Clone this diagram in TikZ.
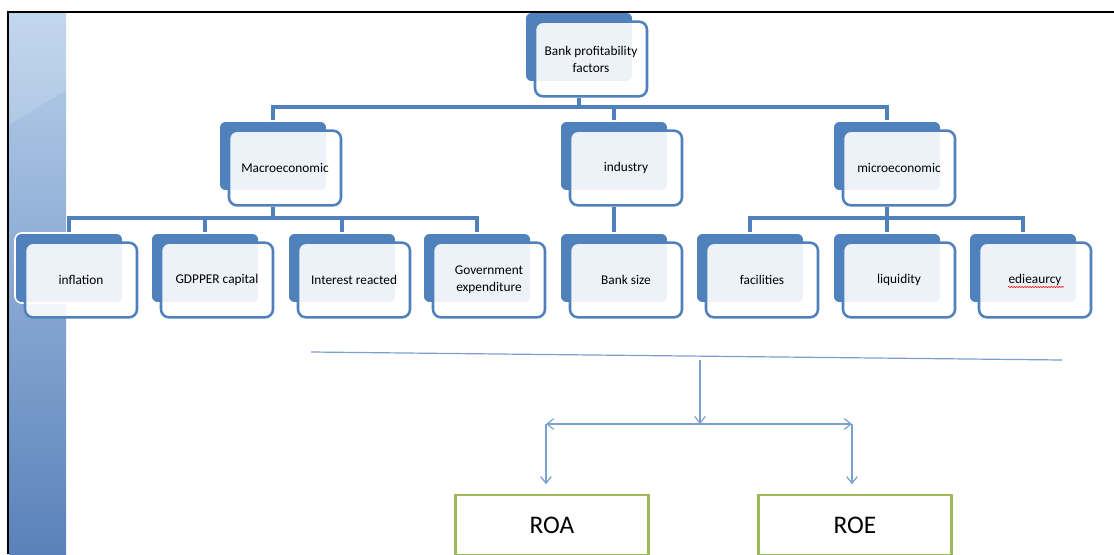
\documentclass[tikz,border=0pt]{standalone}
\usepackage{fontspec}
\setmainfont{Carlito}
\usetikzlibrary{arrows.meta,backgrounds,decorations.pathmorphing}
\definecolor{accblue}{HTML}{4F81BD}
\definecolor{thinblue}{HTML}{7BA0D0}
\definecolor{accgreen}{HTML}{9BBB59}
\definecolor{striptop}{HTML}{B8D0EB}
\definecolor{stripbot}{HTML}{5A82BA}
\tikzset{
  fblk/.style={draw=accblue,line width=1.9pt,rounded corners=6pt,fill=white,fill opacity=0.9,text opacity=1,
    minimum width=84pt,minimum height=56pt,inner sep=1pt,align=center,font=\fontsize{10}{12.8}\selectfont},
  bblk/.style={draw=white,line width=1.2pt,rounded corners=5pt,fill=accblue,minimum width=81pt,minimum height=52.5pt},
  conn/.style={draw=accblue,line width=2.3pt},
  tarr/.style={thinblue,line width=0.9pt,>={Straight Barb[length=5pt,width=8pt]}},
  resblk/.style={draw=accgreen,line width=2.2pt,minimum width=145pt,minimum height=45pt,font=\fontsize{19}{21}\selectfont}
}

\begin{document}
\begin{tikzpicture}[x={(0.75pt,0)},y={(0,-0.75pt)}]
  \useasboundingbox (0,0) rectangle (1114,554);

  % factor tree
  \node[fblk] (top) at (591,59) {Bank profitability\\factors};
  \node[fblk] (macro) at (285,168) {Macroeconomic};
  \node[fblk] (ind) at (626,168) {industry};
  \node[fblk] (micro) at (899,168) {microeconomic};
  \node[fblk] (infl) at (81,280) {inflation};
  \node[fblk] (gdp) at (217,280) {GDPPER capital};
  \node[fblk] (intr) at (354,280) {Interest reacted};
  \node[fblk] (gov) at (489,280) {Government\\expenditure};
  \node[fblk] (bsize) at (626,280) {Bank size};
  \node[fblk] (facil) at (762,280) {facilities};
  \node[fblk] (liq) at (899,280) {liquidity};
  \node[fblk] (edi) at (1035,280) {edieaurcy};

  \begin{scope}[on background layer]
    \shade[top color=striptop,bottom color=stripbot] (9,13) rectangle (66,554);
    \fill[white,opacity=0.15] (9,13) -- (66,13) -- (66,90) -- (9,125) -- cycle;
    \node[bblk] (topbk) at ([shift={(-12,-12)}]top.center) {};
    \node[bblk] (macrobk) at ([shift={(-12,-12)}]macro.center) {};
    \node[bblk] (indbk) at ([shift={(-12,-12)}]ind.center) {};
    \node[bblk] (microbk) at ([shift={(-12,-12)}]micro.center) {};
    \node[bblk] (inflbk) at ([shift={(-12,-12)}]infl.center) {};
    \node[bblk] (gdpbk) at ([shift={(-12,-12)}]gdp.center) {};
    \node[bblk] (intrbk) at ([shift={(-12,-12)}]intr.center) {};
    \node[bblk] (govbk) at ([shift={(-12,-12)}]gov.center) {};
    \node[bblk] (bsizebk) at ([shift={(-12,-12)}]bsize.center) {};
    \node[bblk] (facilbk) at ([shift={(-12,-12)}]facil.center) {};
    \node[bblk] (liqbk) at ([shift={(-12,-12)}]liq.center) {};
    \node[bblk] (edibk) at ([shift={(-12,-12)}]edi.center) {};
  \end{scope}

  \coordinate (bus1) at (0,107);
  \coordinate (bus2) at (0,218);

  \draw[conn] (topbk |- top.south) -- (topbk |- bus1);
  \draw[conn] (macrobk.north) |- (microbk |- bus1) -- (microbk.north);
  \draw[conn] (indbk.north) -- (indbk |- bus1);

  \draw[conn] (macrobk |- macro.south) -- (macrobk |- bus2);
  \draw[conn] (inflbk.north) |- (govbk |- bus2) -- (govbk.north);
  \draw[conn] (gdpbk.north) -- (gdpbk |- bus2);
  \draw[conn] (intrbk.north) -- (intrbk |- bus2);

  \draw[conn] (indbk |- ind.south) -- (bsizebk.north);

  \draw[conn] (microbk |- micro.south) -- (microbk |- bus2);
  \draw[conn] (facilbk.north) |- (edibk |- bus2) -- (edibk.north);
  \draw[conn] (liqbk.north) -- (liqbk |- bus2);

  \draw[red,line width=0.4pt,decorate,decoration={snake,amplitude=0.5pt,segment length=2pt}]
    ([shift={(-27,7)}]edi.center) -- ([shift={(29,7)}]edi.center);

  % outcomes
  \node[resblk] (roa) at (552,525) {ROA};
  \node[resblk] (roe) at (855,525) {ROE};

  \coordinate (hl) at (311,352);
  \coordinate (hr) at (1062,360);
  \coordinate (dropt) at (700,360);
  \coordinate (split) at (700,424);
  \coordinate (lft) at (546,424);
  \coordinate (rgt) at (852,424);

  \draw[tarr] (hl) -- (hr);
  \draw[tarr,->] (dropt) -- (split);
  \draw[tarr,<->] (lft) -- (rgt);
  \draw[tarr,->,shorten >=7pt] (lft) -- (lft |- roa.north);
  \draw[tarr,->,shorten >=7pt] (rgt) -- (rgt |- roe.north);

  % frame
  \draw[black,line width=1.1pt] (1114,12) -- (8,12) -- (8,554);
\end{tikzpicture}
\end{document}
